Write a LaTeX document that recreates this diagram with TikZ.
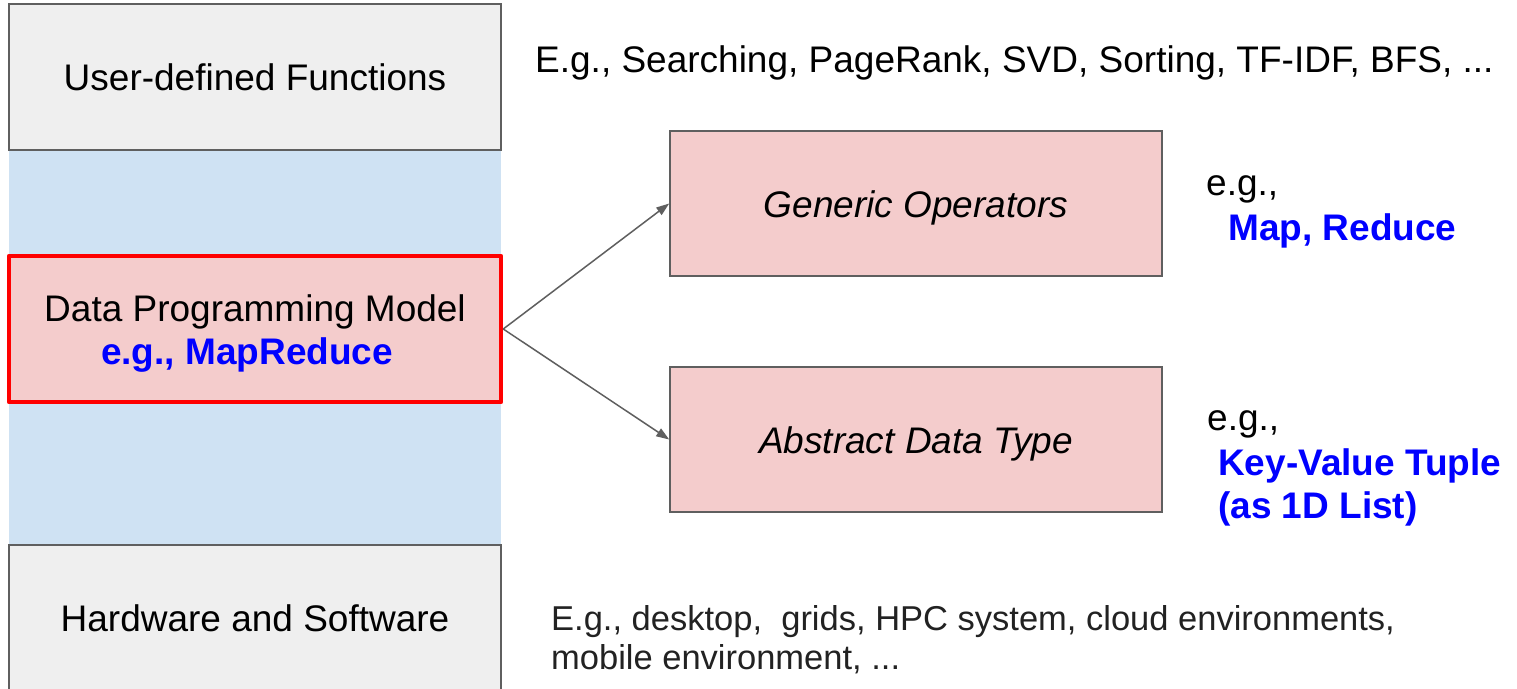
\documentclass[tikz,border=0pt]{standalone}
\usepackage{fontspec}
\setmainfont{Liberation Sans}
\usetikzlibrary{arrows.meta}
\definecolor{boxgray}{HTML}{EFEFEF}
\definecolor{bandblue}{HTML}{CFE2F3}
\definecolor{pinkfill}{HTML}{F4CCCC}
\definecolor{edgegray}{HTML}{5F5F5F}
\definecolor{linkblue}{HTML}{0000FF}
\definecolor{hotred}{HTML}{FF0000}
\definecolor{darktext}{HTML}{222222}
\tikzset{
  layerbox/.style={draw=edgegray, line width=1.6pt, fill=boxgray, minimum width=492pt, minimum height=146pt, inner sep=0pt, text height=27pt, text depth=0pt, align=center, font=\fontsize{37}{43}\selectfont},
  opbox/.style={draw=edgegray, line width=1.6pt, fill=pinkfill, minimum width=492pt, minimum height=145pt, inner sep=0pt, text height=27pt, text depth=0pt, align=center, font=\fontsize{37}{43}\selectfont\itshape},
  modelbox/.style={draw=hotred, line width=4.5pt, line join=round, fill=pinkfill, minimum width=492pt, minimum height=146pt, inner sep=0pt},
  note/.style={inner sep=0pt, anchor=base west, font=\fontsize{37}{43}\selectfont},
  smallnote/.style={inner sep=0pt, anchor=base west, text=darktext, font=\fontsize{34.5}{39}\selectfont},
  bluenote/.style={inner sep=0pt, anchor=base west, text=linkblue, font=\fontsize{37}{43}\selectfont\bfseries},
  link/.style={draw=edgegray, line width=1.5pt, -{Triangle[length=13pt,width=9pt]}}
}
\begin{document}
\begin{tikzpicture}[x=1pt,y=-1pt]
\useasboundingbox (0,0) rectangle (1517,688);
\fill[white] (0,0) rectangle (1517,688);
\begin{scope}
\clip (0,0) rectangle (1517,688);
% blue band
\fill[bandblue] (9,150) rectangle (501,545);
\node[layerbox] (udf) at (255,77) {User-defined Functions};
\node[layerbox] (hw) at (255,618) {Hardware and Software};
\node[modelbox, label={[name=dpmtext, inner sep=0pt, yshift=-5pt, align=center, font=\fontsize{37}{43}\selectfont]center:Data Programming Model\\[0pt]{\color{linkblue}\bfseries e.g., MapReduce\hspace*{16pt}}}] (dpm) at (255,329) {};
\end{scope}

\node[opbox] (gen) at (916,203.5) {Generic Operators};
\node[opbox] (adt) at (916,439.5) {Abstract Data Type};

\draw[link] (dpm.east) -- (gen.west);
\draw[link] (dpm.east) -- (adt.west);

\node[note] (ex1) at (535,72) {E.g., Searching, PageRank, SVD, Sorting, TF-IDF, BFS, ...};

\node[note] (eg1) at (1206,195) {e.g.,};
\node[bluenote] (mr) at (1228,240) {Map, Reduce};

\node[note] (eg2) at (1207,430) {e.g.,};
\node[bluenote] (kv) at (1218,475) {Key-Value Tuple};
\node[bluenote] (l1d) at (1218,518) {(as 1D List)};

\node[smallnote] (ex2a) at (551,630) {E.g., desktop, \ grids, HPC system, cloud environments,};
\node[smallnote] (ex2b) at (551,669) {mobile environment, ...};
\end{tikzpicture}
\end{document}
